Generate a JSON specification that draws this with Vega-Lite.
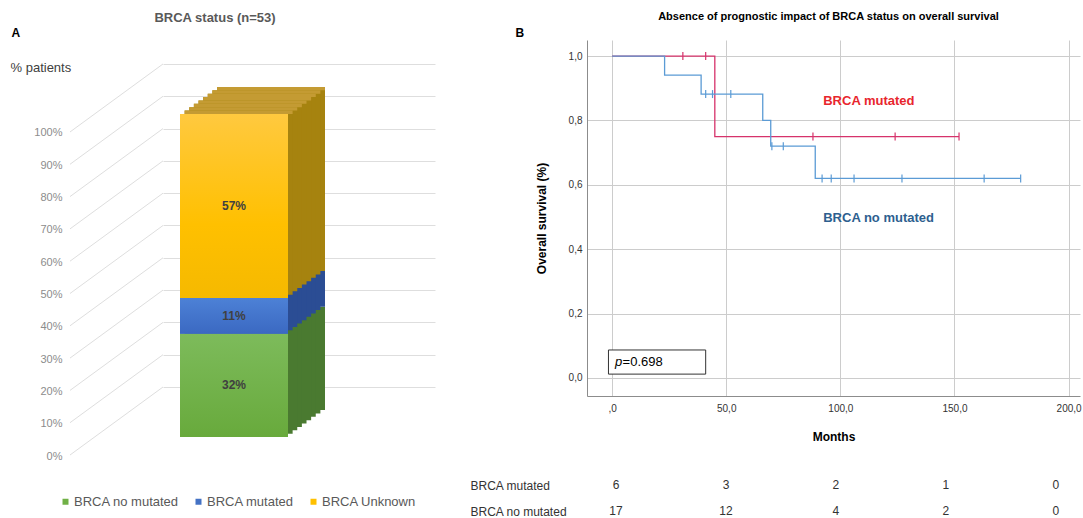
{
  "$schema": "https://vega.github.io/schema/vega-lite/v6.json",
  "background": "#ffffff",
  "padding": {"left": 10, "top": 11, "right": 0, "bottom": 0},
  "config": {"view": {"stroke": null}, "font": "Liberation Sans"},
  "hconcat": [
    {
      "width": 272,
      "height": 397,
      "title": {"text": "BRCA status (n=53)", "fontSize": 13, "fontWeight": "bold", "color": "#595959", "dx": -84, "dy": 3, "anchor": "middle"},
      "data": {"values": [
        {"chart": "BRCA status", "status": "BRCA no mutated", "rank": 1, "pct": 32, "label": "32%"},
        {"chart": "BRCA status", "status": "BRCA mutated", "rank": 2, "pct": 11, "label": "11%"},
        {"chart": "BRCA status", "status": "BRCA Unknown", "rank": 3, "pct": 57, "label": "57%"}
      ]},
      "transform": [
        {"stack": "pct", "groupby": ["chart"], "sort": [{"field": "rank", "order": "ascending"}], "as": ["y0", "y1"]},
        {"calculate": "(datum.y0 + datum.y1) / 2", "as": "ymid"}
      ],
      "encoding": {
        "x": {"field": "chart", "type": "nominal", "axis": {"orient": "top", "title": "A", "labels": false, "ticks": false, "domain": false, "grid": false, "titleX": -152, "titleY": -8, "titleAlign": "left", "titleBaseline": "middle", "titleFontSize": 12, "titleFontWeight": "bold", "titleColor": "#000000"}},
        "y": {"field": "y0", "type": "quantitative", "scale": {"domain": [0, 122.9], "nice": false, "zero": true},
              "axis": {"values": [0, 10, 20, 30, 40, 50, 60, 70, 80, 90, 100], "tickCount": 11, "labelExpr": "datum.value + '%'", "labelOverlap": false, "tickOffset": -50, "labelOffset": 69, "grid": true, "gridColor": "#dedede", "domain": false, "ticks": false, "labelPadding": 101, "labelFontSize": 11, "labelColor": "#8c8c8c", "title": "% patients", "titleAngle": 0, "titleAlign": "left", "titleBaseline": "middle", "titleX": -153, "titleY": 27, "titleFontSize": 13, "titleFontWeight": "normal", "titleColor": "#404040"}}
      },
      "layer": [
        {"data": {"values": [{"v": 0}, {"v": 10}, {"v": 20}, {"v": 30}, {"v": 40}, {"v": 50}, {"v": 60}, {"v": 70}, {"v": 80}, {"v": 90}, {"v": 100}]},
         "transform": [],
         "mark": {"type": "rule", "color": "#dedede", "strokeWidth": 1, "xOffset": -229, "x2Offset": -136, "yOffset": 18, "y2Offset": -50},
         "encoding": {"x": {"datum": "BRCA status", "type": "nominal"}, "x2": {"datum": "BRCA status"}, "y": {"field": "v", "type": "quantitative"}, "y2": {"field": "v"}}},
        {"mark": {"type": "bar", "width": 108, "xOffset": -28, "yOffset": -27, "y2Offset": -27},
         "encoding": {"y2": {"field": "y1"}, "fill": {"field": "rank", "type": "ordinal", "scale": {"domain": [1, 2, 3], "range": ["#4a7a30", "#2b4d94", "#a6830f"]}, "legend": null}}},
        {"mark": {"type": "bar", "width": 108, "xOffset": -32.625, "yOffset": -23.625, "y2Offset": -23.625},
         "encoding": {"y2": {"field": "y1"}, "fill": {"field": "rank", "type": "ordinal", "legend": null}}},
        {"mark": {"type": "bar", "width": 108, "xOffset": -37.25, "yOffset": -20.25, "y2Offset": -20.25},
         "encoding": {"y2": {"field": "y1"}, "fill": {"field": "rank", "type": "ordinal", "legend": null}}},
        {"mark": {"type": "bar", "width": 108, "xOffset": -41.875, "yOffset": -16.875, "y2Offset": -16.875},
         "encoding": {"y2": {"field": "y1"}, "fill": {"field": "rank", "type": "ordinal", "legend": null}}},
        {"mark": {"type": "bar", "width": 108, "xOffset": -46.5, "yOffset": -13.5, "y2Offset": -13.5},
         "encoding": {"y2": {"field": "y1"}, "fill": {"field": "rank", "type": "ordinal", "legend": null}}},
        {"mark": {"type": "bar", "width": 108, "xOffset": -51.125, "yOffset": -10.125, "y2Offset": -10.125},
         "encoding": {"y2": {"field": "y1"}, "fill": {"field": "rank", "type": "ordinal", "legend": null}}},
        {"mark": {"type": "bar", "width": 108, "xOffset": -55.75, "yOffset": -6.75, "y2Offset": -6.75},
         "encoding": {"y2": {"field": "y1"}, "fill": {"field": "rank", "type": "ordinal", "legend": null}}},
        {"mark": {"type": "bar", "width": 108, "xOffset": -60.375, "yOffset": -3.375, "y2Offset": -3.375},
         "encoding": {"y2": {"field": "y1"}, "fill": {"field": "rank", "type": "ordinal", "legend": null}}},
        {"transform": [{"filter": "datum.rank == 3"}],
         "mark": {"type": "bar", "width": 108, "color": "#c49b33", "xOffset": -28, "yOffset": -23.625, "y2Offset": -27},
         "encoding": {"y": {"field": "y1", "type": "quantitative"}, "y2": {"field": "y1"}}},
        {"transform": [{"filter": "datum.rank == 3"}],
         "mark": {"type": "bar", "width": 108, "color": "#c49b33", "xOffset": -32.625, "yOffset": -20.25, "y2Offset": -23.625},
         "encoding": {"y": {"field": "y1", "type": "quantitative"}, "y2": {"field": "y1"}}},
        {"transform": [{"filter": "datum.rank == 3"}],
         "mark": {"type": "bar", "width": 108, "color": "#c49b33", "xOffset": -37.25, "yOffset": -16.875, "y2Offset": -20.25},
         "encoding": {"y": {"field": "y1", "type": "quantitative"}, "y2": {"field": "y1"}}},
        {"transform": [{"filter": "datum.rank == 3"}],
         "mark": {"type": "bar", "width": 108, "color": "#c49b33", "xOffset": -41.875, "yOffset": -13.5, "y2Offset": -16.875},
         "encoding": {"y": {"field": "y1", "type": "quantitative"}, "y2": {"field": "y1"}}},
        {"transform": [{"filter": "datum.rank == 3"}],
         "mark": {"type": "bar", "width": 108, "color": "#c49b33", "xOffset": -46.5, "yOffset": -10.125, "y2Offset": -13.5},
         "encoding": {"y": {"field": "y1", "type": "quantitative"}, "y2": {"field": "y1"}}},
        {"transform": [{"filter": "datum.rank == 3"}],
         "mark": {"type": "bar", "width": 108, "color": "#c49b33", "xOffset": -51.125, "yOffset": -6.75, "y2Offset": -10.125},
         "encoding": {"y": {"field": "y1", "type": "quantitative"}, "y2": {"field": "y1"}}},
        {"transform": [{"filter": "datum.rank == 3"}],
         "mark": {"type": "bar", "width": 108, "color": "#c49b33", "xOffset": -55.75, "yOffset": -3.375, "y2Offset": -6.75},
         "encoding": {"y": {"field": "y1", "type": "quantitative"}, "y2": {"field": "y1"}}},
        {"transform": [{"filter": "datum.rank == 3"}],
         "mark": {"type": "bar", "width": 108, "color": "#c49b33", "xOffset": -60.375, "yOffset": 0, "y2Offset": -3.375},
         "encoding": {"y": {"field": "y1", "type": "quantitative"}, "y2": {"field": "y1"}}},
        {"mark": {"type": "bar", "width": 108, "xOffset": -65},
         "encoding": {
           "y2": {"field": "y1"},
           "color": {"field": "status", "type": "nominal", "scale": {"domain": ["BRCA no mutated", "BRCA mutated", "BRCA Unknown"], "range": ["#70b046", "#4472c4", "#ffc000"]},
                     "legend": {"orient": "none", "direction": "horizontal", "columns": 3, "legendX": -104, "legendY": 455, "title": null, "symbolType": "square", "symbolSize": 36, "symbolStrokeWidth": 0, "labelFontSize": 13, "labelColor": "#595959", "labelOffset": 2, "columnPadding": 13, "labelLimit": 200}}
         }},
        {"transform": [{"filter": "datum.rank == 1"}],
         "mark": {"type": "bar", "width": 108, "xOffset": -65, "color": {"gradient": "linear", "x1": 0, "y1": 0, "x2": 0, "y2": 1, "stops": [{"offset": 0, "color": "#7dbb5b"}, {"offset": 1, "color": "#68aa3c"}]}},
         "encoding": {"y2": {"field": "y1"}}},
        {"transform": [{"filter": "datum.rank == 2"}],
         "mark": {"type": "bar", "width": 108, "xOffset": -65, "color": {"gradient": "linear", "x1": 0, "y1": 0, "x2": 0, "y2": 1, "stops": [{"offset": 0, "color": "#4d81d6"}, {"offset": 1, "color": "#3b69c2"}]}},
         "encoding": {"y2": {"field": "y1"}}},
        {"transform": [{"filter": "datum.rank == 3"}],
         "mark": {"type": "bar", "width": 108, "xOffset": -65, "color": {"gradient": "linear", "x1": 0, "y1": 0, "x2": 0, "y2": 1, "stops": [{"offset": 0, "color": "#ffc93f"}, {"offset": 0.6, "color": "#ffc000"}, {"offset": 1, "color": "#f5b900"}]}},
         "encoding": {"y2": {"field": "y1"}}},
        {"mark": {"type": "text", "xOffset": -65, "fontSize": 12, "fontWeight": "bold", "color": "#404040", "baseline": "middle"},
         "encoding": {"y": {"field": "ymid", "type": "quantitative"}, "text": {"field": "label"}}}
      ]
    },
    {
      "spacing": 30,
      "resolve": {"scale": {"x": "independent"}},
      "vconcat": [
        {
          "width": 493,
          "height": 356,
          "title": {"text": "Absence of prognostic impact of BRCA status on overall survival", "fontSize": 11, "fontWeight": "bold", "color": "#000000", "dx": -5},
          "resolve": {"axis": {"x": "independent"}},
          "layer": [
            {
              "data": {"values": [
                {"group": "BRCA mutated", "month": 0, "surv": 1.0},
                {"group": "BRCA mutated", "month": 45, "surv": 0.75},
                {"group": "BRCA mutated", "month": 152, "surv": 0.75},
                {"group": "BRCA no mutated", "month": 0, "surv": 1.0},
                {"group": "BRCA no mutated", "month": 23, "surv": 0.941},
                {"group": "BRCA no mutated", "month": 39, "surv": 0.882},
                {"group": "BRCA no mutated", "month": 66, "surv": 0.80},
                {"group": "BRCA no mutated", "month": 69.5, "surv": 0.72},
                {"group": "BRCA no mutated", "month": 89, "surv": 0.62},
                {"group": "BRCA no mutated", "month": 179, "surv": 0.62}
              ]},
              "mark": {"type": "line", "interpolate": "step-after", "strokeWidth": 1.3},
              "encoding": {
                "x": {"field": "month", "type": "quantitative", "scale": {"domain": [-11, 205], "nice": false, "zero": false},
                      "axis": {"values": [0, 50, 100, 150, 200], "labelExpr": "datum.value == 0 ? ',0' : replace(format(datum.value, '.1f'), '.', ',')", "grid": true, "gridColor": "#cccccc", "domainColor": "#8c8c8c", "ticks": false, "labelPadding": 7, "labelFontSize": 10, "labelColor": "#333333", "title": "Months", "titleFontSize": 12, "titleFontWeight": "bold", "titleColor": "#000000", "titlePadding": 18}},
                "y": {"field": "surv", "type": "quantitative", "scale": {"domain": [-0.056, 1.05], "nice": false, "zero": false},
                      "axis": {"values": [0, 0.2, 0.4, 0.6, 0.8, 1], "labelExpr": "replace(format(datum.value, '.1f'), '.', ',')", "grid": true, "gridColor": "#cccccc", "domainColor": "#8c8c8c", "ticks": false, "labelPadding": 5, "labelFontSize": 10, "labelColor": "#333333", "title": "Overall survival (%)", "titleFontSize": 12, "titleFontWeight": "bold", "titleColor": "#000000", "titlePadding": 20}},
                "color": {"field": "group", "type": "nominal", "scale": {"domain": ["BRCA mutated", "BRCA no mutated"], "range": ["#d6336b", "#5b9bd5"]}, "legend": null}
              }
            },
            {
              "data": {"values": [
                {"group": "BRCA mutated", "month": 31, "surv": 1.0},
                {"group": "BRCA mutated", "month": 41, "surv": 1.0},
                {"group": "BRCA mutated", "month": 88, "surv": 0.75},
                {"group": "BRCA mutated", "month": 124, "surv": 0.75},
                {"group": "BRCA mutated", "month": 152, "surv": 0.75},
                {"group": "BRCA no mutated", "month": 41, "surv": 0.882},
                {"group": "BRCA no mutated", "month": 44, "surv": 0.882},
                {"group": "BRCA no mutated", "month": 52, "surv": 0.882},
                {"group": "BRCA no mutated", "month": 70, "surv": 0.72},
                {"group": "BRCA no mutated", "month": 75, "surv": 0.72},
                {"group": "BRCA no mutated", "month": 92, "surv": 0.62},
                {"group": "BRCA no mutated", "month": 96, "surv": 0.62},
                {"group": "BRCA no mutated", "month": 106, "surv": 0.62},
                {"group": "BRCA no mutated", "month": 127, "surv": 0.62},
                {"group": "BRCA no mutated", "month": 163, "surv": 0.62},
                {"group": "BRCA no mutated", "month": 179, "surv": 0.62}
              ]},
              "mark": {"type": "point", "shape": "M0,-1L0,1", "size": 64, "strokeWidth": 1.2, "filled": false, "opacity": 1},
              "encoding": {
                "x": {"field": "month", "type": "quantitative", "axis": null},
                "y": {"field": "surv", "type": "quantitative"},
                "color": {"field": "group", "type": "nominal", "legend": null}
              }
            },
            {
              "data": {"values": [
                {"group": "BRCA mutated", "label": "BRCA mutated", "month": 92.5, "surv": 0.86},
                {"group": "BRCA no mutated", "label": "BRCA no mutated", "month": 92.5, "surv": 0.498}
              ]},
              "mark": {"type": "text", "align": "left", "baseline": "middle", "fontSize": 13, "fontWeight": "bold"},
              "encoding": {
                "x": {"field": "month", "type": "quantitative", "axis": null},
                "y": {"field": "surv", "type": "quantitative"},
                "text": {"field": "label"},
                "fill": {"field": "group", "type": "nominal", "scale": {"domain": ["BRCA mutated", "BRCA no mutated"], "range": ["#e8262d", "#2e5f8f"]}, "legend": null}
              }
            },
            {
              "data": {"values": [{"month": -1.6, "month_end": 41, "surv": 0.012, "surv_end": 0.087}]},
              "mark": {"type": "rect", "fill": "#ffffff", "stroke": "#333333", "strokeWidth": 1},
              "encoding": {
                "x": {"field": "month", "type": "quantitative", "axis": {"orient": "top", "title": "B", "labels": false, "ticks": false, "domain": false, "grid": false, "titleX": -72, "titleY": -8, "titleAlign": "left", "titleBaseline": "middle", "titleFontSize": 12, "titleFontWeight": "bold", "titleColor": "#000000"}},
                "x2": {"field": "month_end"},
                "y": {"field": "surv", "type": "quantitative"},
                "y2": {"field": "surv_end"}
              }
            },
            {
              "data": {"values": [{"month": 1.3, "surv": 0.05, "label": "p"}]},
              "mark": {"type": "text", "align": "left", "baseline": "middle", "fontSize": 13, "fontStyle": "italic", "color": "#000000"},
              "encoding": {
                "x": {"field": "month", "type": "quantitative", "axis": null},
                "y": {"field": "surv", "type": "quantitative"},
                "text": {"field": "label"}
              }
            },
            {
              "data": {"values": [{"month": 1.3, "surv": 0.05, "label": "=0.698"}]},
              "mark": {"type": "text", "align": "left", "baseline": "middle", "fontSize": 13, "dx": 7.5, "color": "#000000"},
              "encoding": {
                "x": {"field": "month", "type": "quantitative", "axis": null},
                "y": {"field": "surv", "type": "quantitative"},
                "text": {"field": "label"}
              }
            }
          ]
        },
        {
          "width": 493,
          "height": 52,
          "data": {"values": [
            {"group": "BRCA mutated", "month": 0, "n": 6},
            {"group": "BRCA mutated", "month": 50, "n": 3},
            {"group": "BRCA mutated", "month": 100, "n": 2},
            {"group": "BRCA mutated", "month": 150, "n": 1},
            {"group": "BRCA mutated", "month": 200, "n": 0},
            {"group": "BRCA no mutated", "month": 0, "n": 17},
            {"group": "BRCA no mutated", "month": 50, "n": 12},
            {"group": "BRCA no mutated", "month": 100, "n": 4},
            {"group": "BRCA no mutated", "month": 150, "n": 2},
            {"group": "BRCA no mutated", "month": 200, "n": 0}
          ]},
          "mark": {"type": "text", "fontSize": 12, "color": "#333333", "baseline": "middle"},
          "encoding": {
            "x": {"field": "month", "type": "quantitative", "scale": {"domain": [-13.2, 211], "nice": false, "zero": false}, "axis": null},
            "y": {"field": "group", "type": "nominal", "sort": ["BRCA mutated", "BRCA no mutated"], "axis": {"title": null, "ticks": false, "domain": false, "labelAlign": "left", "labelPadding": 117, "labelFontSize": 12, "labelColor": "#333333", "labelLimit": 200}},
            "text": {"field": "n", "type": "quantitative"}
          }
        }
      ]
    }
  ],
  "spacing": 35,
  "resolve": {"scale": {"color": "independent", "fill": "independent"}, "legend": {"color": "independent"}}
}
